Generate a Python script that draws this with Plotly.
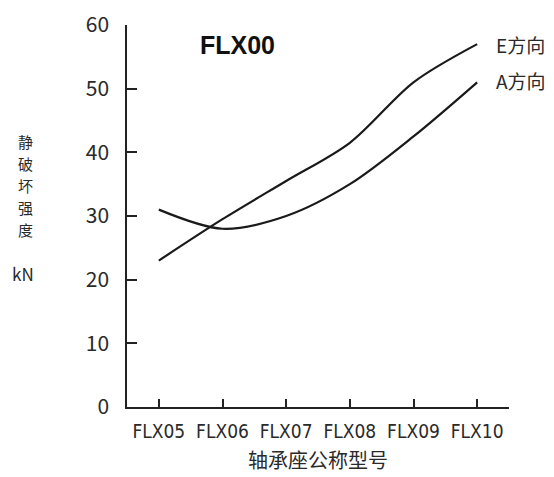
import plotly.graph_objects as go

categories = ["FLX05", "FLX06", "FLX07", "FLX08", "FLX09", "FLX10"]
e_values = [23, 29.5, 35.5, 41.5, 51, 57]
a_values = [31, 28, 30, 35, 42.5, 51]
y_ticks = [0, 10, 20, 30, 40, 50, 60]
series_names = ["E方向", "A方向"]
label_y = [57, 51.3]
chart_title = "FLX00"
x_title = "轴承座公称型号"
y_title_chars = ["静", "破", "坏", "强", "度"]
y_unit = "kN"

CJK = "Noto Sans CJK SC, sans-serif"
NARROW = "Liberation Sans Narrow, DejaVu Sans Condensed, Noto Sans CJK SC, sans-serif"
INK = "#2a2a2a"

W, H = 554, 477
L, R, T, B = 127, 45, 25, 70
PW, PH = W - L - R, H - T - B

fig = go.Figure()
for name, vals, ly in zip(series_names, [e_values, a_values], label_y):
    fig.add_trace(go.Scatter(
        x=list(range(len(categories))), y=vals, mode="lines", name=name,
        line=dict(color="#1a1a1a", width=2.2, shape="spline", smoothing=0.9),
        showlegend=False, hoverinfo="skip"))
    fig.add_annotation(x=len(categories) - 1, y=ly, text=name,
                       xanchor="left", yanchor="middle", xshift=17,
                       showarrow=False, font=dict(family=CJK, size=19, color=INK))

fig.add_annotation(x=1.24, y=56.8, text="<b>" + chart_title + "</b>", showarrow=False,
                   font=dict(family="Liberation Sans, Arial, sans-serif", size=25, color="#111"))

# vertical y-axis title, one character per annotation (pixel centres 141..229)
for i, ch in enumerate(y_title_chars):
    py = 141 + 22 * i
    fig.add_annotation(xref="paper", yref="paper", x=(25 - L) / PW, y=(H - B - py) / PH,
                       text=ch, showarrow=False, xanchor="center", yanchor="middle",
                       font=dict(family=CJK, size=15, color=INK))
fig.add_annotation(xref="paper", yref="paper", x=(23 - L) / PW, y=(H - B - 273) / PH,
                   text=y_unit, showarrow=False, xanchor="center", yanchor="middle",
                   font=dict(family=CJK, size=17, color=INK))

fig.update_layout(
    width=W, height=H,
    margin=dict(l=L, r=R, t=T, b=B, autoexpand=False),
    paper_bgcolor="white", plot_bgcolor="white",
    font=dict(family=CJK, color=INK),
    xaxis=dict(
        tickmode="array", tickvals=list(range(len(categories))), ticktext=categories,
        range=[-0.5, 5.5], showline=True, linecolor="#222", linewidth=1.5,
        ticks="inside", ticklen=8, tickwidth=1.5, tickcolor="#222",
        showgrid=False, zeroline=False, automargin=False,
        ticklabelstandoff=6,
        tickfont=dict(family=NARROW, size=19, color=INK),
        title=dict(text=x_title, font=dict(family=CJK, size=20, color=INK), standoff=13),
    ),
    yaxis=dict(
        tickmode="array", tickvals=y_ticks, range=[0, 60],
        showline=True, linecolor="#222", linewidth=1.5,
        ticks="inside", ticklen=10, tickwidth=1.5, tickcolor="#222",
        showgrid=False, zeroline=False, automargin=False,
        ticklabelstandoff=12,
        tickfont=dict(family=CJK, size=21, color=INK),
    ),
)

fig.write_html("out.html", config={"displayModeBar": False},
               post_script="document.body.style.margin='0';")
